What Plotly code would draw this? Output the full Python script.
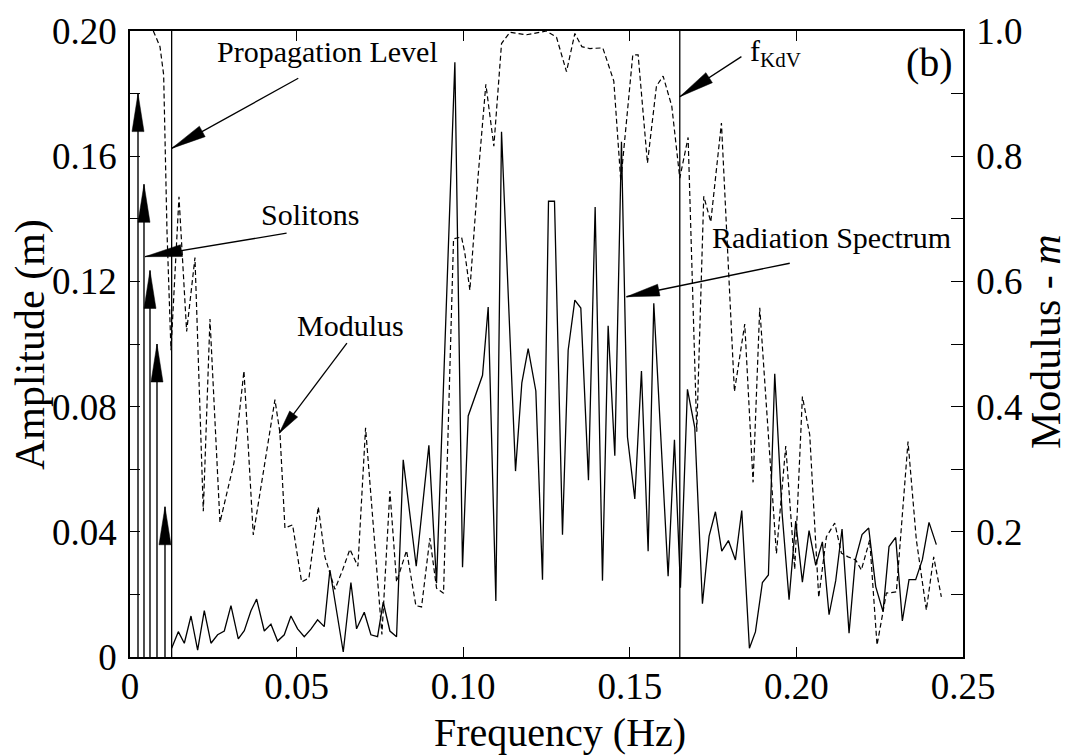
import math
import plotly.graph_objects as go

# ---------------- data ----------------
# Radiation spectrum amplitude (m), solid line, left axis
freq_amp = [0.0125, 0.0145, 0.0163, 0.0183, 0.0203, 0.0223, 0.0243, 0.0263, 0.0283, 0.0303,
            0.0325, 0.0343, 0.0363, 0.0380, 0.0403, 0.0423, 0.0443, 0.0463, 0.0483, 0.0503,
            0.0523, 0.0543, 0.0563, 0.0583, 0.0600, 0.0640, 0.0663, 0.0680, 0.0703, 0.0723,
            0.0743, 0.0760, 0.0780, 0.0800, 0.0820, 0.0859, 0.0897, 0.0920, 0.0975, 0.0998,
            0.1015, 0.1058, 0.1075, 0.1098, 0.1115, 0.1157, 0.1176, 0.1195, 0.1218, 0.1238,
            0.1256, 0.1274, 0.1298, 0.1315, 0.1335, 0.1353, 0.1376, 0.1396, 0.1418, 0.1435,
            0.1455, 0.1475, 0.1493, 0.1515, 0.1535, 0.1555, 0.1572, 0.1615, 0.1634, 0.1652,
            0.1673, 0.1695, 0.1718, 0.1738, 0.1757, 0.1776, 0.1796, 0.1817, 0.1836, 0.1859,
            0.1877, 0.1898, 0.1916, 0.1935, 0.1957, 0.1978, 0.1998, 0.2018, 0.2038, 0.2058,
            0.2078, 0.2098, 0.2118, 0.2137, 0.2158, 0.2177, 0.2197, 0.2217, 0.2238, 0.2260,
            0.2278, 0.2298, 0.2318, 0.2338, 0.2358, 0.2378, 0.2398, 0.2420]
amp = [0.0028, 0.0081, 0.0044, 0.0131, 0.0022, 0.0148, 0.0044, 0.0071, 0.0083, 0.0164,
       0.0058, 0.0084, 0.0148, 0.0185, 0.0083, 0.0105, 0.0051, 0.0071, 0.0131, 0.0090,
       0.0065, 0.0089, 0.0119, 0.0097, 0.0278, 0.0016, 0.0238, 0.0090, 0.0143, 0.0071,
       0.0065, 0.0175, 0.0083, 0.0065, 0.0630, 0.0290, 0.0676, 0.0236, 0.1900, 0.0287,
       0.0770, 0.0900, 0.1118, 0.0179, 0.1678, 0.0594, 0.0876, 0.0985, 0.0850, 0.0247,
       0.1456, 0.1456, 0.0391, 0.0980, 0.1140, 0.1115, 0.0565, 0.1438, 0.0244, 0.1058,
       0.0643, 0.1646, 0.0703, 0.0505, 0.0914, 0.0338, 0.1130, 0.0258, 0.0694, 0.0221,
       0.0855, 0.0733, 0.0170, 0.0386, 0.0464, 0.0338, 0.0372, 0.0310, 0.0468, 0.0028,
       0.0080, 0.0238, 0.0262, 0.0905, 0.0461, 0.0183, 0.0434, 0.0239, 0.0404, 0.0293,
       0.0368, 0.0135, 0.0244, 0.0409, 0.0076, 0.0311, 0.0391, 0.0412, 0.0225, 0.0145,
       0.0353, 0.0382, 0.0115, 0.0247, 0.0247, 0.0311, 0.0430, 0.0359]

# Modulus m, dashed line, right axis
freq_mod = [0.0070, 0.0090, 0.0101, 0.0111, 0.0123, 0.0147, 0.0170, 0.0195, 0.0220, 0.0240,
            0.0270, 0.0312, 0.0342, 0.0370, 0.0435, 0.0450, 0.0465, 0.0488, 0.0515, 0.0537,
            0.0565, 0.0585, 0.0615, 0.0638, 0.0660, 0.0684, 0.0707, 0.0756, 0.0780, 0.0800,
            0.0830, 0.0858, 0.0875, 0.0900, 0.0920, 0.0941, 0.0971, 0.0995, 0.1005, 0.1020,
            0.1045, 0.1068, 0.1092, 0.1115, 0.1140, 0.1190, 0.1250, 0.1280, 0.1310, 0.1335,
            0.1356, 0.1380, 0.1419, 0.1452, 0.1473, 0.1509, 0.1525, 0.1553, 0.1580, 0.1600,
            0.1626, 0.1650, 0.1675, 0.1701, 0.1722, 0.1743, 0.1775, 0.1814, 0.1845, 0.1870,
            0.1890, 0.1940, 0.1968, 0.1980, 0.1995, 0.2018, 0.2040, 0.2067, 0.2090, 0.2115,
            0.2135, 0.2155, 0.2178, 0.2195, 0.2220, 0.2242, 0.2270, 0.2300, 0.2335, 0.2360,
            0.2390, 0.2412, 0.2435]
modulus = [1.000, 0.975, 0.930, 0.680, 0.490, 0.735, 0.520, 0.638, 0.233, 0.540,
           0.215, 0.310, 0.457, 0.195, 0.411, 0.358, 0.206, 0.211, 0.120, 0.126,
           0.240, 0.160, 0.108, 0.139, 0.172, 0.145, 0.366, 0.036, 0.265, 0.120,
           0.170, 0.082, 0.080, 0.190, 0.110, 0.102, 0.668, 0.671, 0.645, 0.586,
           0.770, 0.915, 0.816, 0.980, 0.998, 0.994, 1.000, 0.990, 0.935, 0.996,
           0.975, 0.972, 0.973, 0.920, 0.760, 0.962, 0.962, 0.789, 0.912, 0.928,
           0.880, 0.765, 0.830, 0.360, 0.736, 0.695, 0.853, 0.424, 0.532, 0.279,
           0.558, 0.165, 0.337, 0.256, 0.140, 0.416, 0.355, 0.095, 0.192, 0.214,
           0.166, 0.160, 0.155, 0.139, 0.187, 0.019, 0.102, 0.104, 0.344, 0.187,
           0.075, 0.160, 0.096]

# Solitons (frequency, amplitude)
soliton_freq = [0.0024, 0.0042, 0.0060, 0.0081, 0.0105]
soliton_amp = [0.180, 0.151, 0.1235, 0.100, 0.048]

# Reference frequencies
f_propagation = 0.0125
f_kdv = 0.1650

# Axes
x_ticks = [0, 0.05, 0.10, 0.15, 0.20, 0.25]
x_ticktext = ["0", "0.05", "0.10", "0.15", "0.20", "0.25"]
yl_ticks = [0, 0.04, 0.08, 0.12, 0.16, 0.20]
yl_ticktext = ["0", "0.04", "0.08", "0.12", "0.16", "0.20"]
yr_ticks = [0.2, 0.4, 0.6, 0.8, 1.0]
yr_ticktext = ["0.2", "0.4", "0.6", "0.8", "1.0"]

# ---------------- layout geometry ----------------
W, H = 1078, 755
ML, MR, MT, MB = 130, 115, 31, 98
PW, PH = W - ML - MR, H - MT - MB
XR = [0, 0.25]
YR = [0, 0.20]
SX = PW / (XR[1] - XR[0])   # px per Hz
SY = PH / (YR[1] - YR[0])   # px per m

FONT = "Liberation Serif, Times New Roman, serif"


def head(tail, tip, length, half):
    """Triangle (data coords) for an arrow head at `tip`."""
    X0, Y0 = tail[0] * SX, tail[1] * SY
    X1, Y1 = tip[0] * SX, tip[1] * SY
    d = math.hypot(X1 - X0, Y1 - Y0)
    ux, uy = (X1 - X0) / d, (Y1 - Y0) / d
    bx, by = X1 - length * ux, Y1 - length * uy
    nx, ny = -uy, ux
    pts = [(X1, Y1), (bx + half * nx, by + half * ny), (bx - half * nx, by - half * ny)]
    return [(p[0] / SX, p[1] / SY) for p in pts]


def px_to_paper(px, py):
    return (px - ML) / PW, (H - MB - py) / PH


fig = go.Figure()

# solid amplitude spectrum
fig.add_trace(go.Scatter(x=freq_amp, y=amp, mode="lines",
                         line=dict(color="black", width=1.3), yaxis="y", showlegend=False))
# dashed modulus
fig.add_trace(go.Scatter(x=freq_mod, y=modulus, mode="lines",
                         line=dict(color="black", width=1.2, dash="5px,3px"),
                         yaxis="y2", showlegend=False))

# soliton stems
sx, sy = [], []
for f, a in zip(soliton_freq, soliton_amp):
    sx += [f, f, None]
    sy += [0, a, None]
fig.add_trace(go.Scatter(x=sx, y=sy, mode="lines", line=dict(color="#222", width=1.6),
                         showlegend=False))
# soliton arrow heads
hx, hy = [], []
for f, a in zip(soliton_freq, soliton_amp):
    tri = head((f, 0), (f, a), 38, 6)
    hx += [p[0] for p in tri] + [tri[0][0], None]
    hy += [p[1] for p in tri] + [tri[0][1], None]
fig.add_trace(go.Scatter(x=hx, y=hy, mode="lines", fill="toself", fillcolor="black",
                         line=dict(color="black", width=0.5), showlegend=False))

shapes = []
# vertical reference lines
for fv in (f_propagation, f_kdv):
    shapes.append(dict(type="line", xref="x", yref="paper", x0=fv, x1=fv, y0=0, y1=1,
                       line=dict(color="black", width=1.3)))

# annotation arrows: (tail, tip, head length px, half width px)
arrows = [
    ((0.0505, 0.1849), (0.0125, 0.1625), 35, 6),   # Propagation Level
    ((0.0470, 0.1354), (0.0045, 0.1279), 37, 6),   # Solitons
    ((0.0651, 0.1003), (0.0448, 0.0715), 24, 5),   # Modulus
    ((0.1980, 0.1258), (0.1490, 0.1151), 33, 6),   # Radiation Spectrum
    ((0.1835, 0.1918), (0.1650, 0.1790), 35, 6),   # f_KdV
]
for tail, tip, L, hw in arrows:
    shapes.append(dict(type="line", xref="x", yref="y", x0=tail[0], y0=tail[1],
                       x1=tip[0], y1=tip[1], line=dict(color="black", width=1.3)))
    tri = head(tail, tip, L, hw)
    path = "M{},{} L{},{} L{},{} Z".format(tri[0][0], tri[0][1], tri[1][0], tri[1][1],
                                          tri[2][0], tri[2][1])
    shapes.append(dict(type="path", xref="x", yref="y", path=path,
                       fillcolor="black", line=dict(color="black", width=0.5)))

ann_font = dict(family=FONT, size=30, color="black")
annotations = [
    dict(x=0.0594, y=0.1933, text="Propagation Level"),
    dict(x=0.0540, y=0.1415, text="Solitons"),
    dict(x=0.0663, y=0.1058, text="Modulus"),
    dict(x=0.2106, y=0.1339, text="Radiation Spectrum"),
    dict(x=0.1938, y=0.1930, text="f<sub>KdV</sub>"),
]
for a in annotations:
    a.update(xref="x", yref="y", showarrow=False, font=ann_font, xanchor="center",
             yanchor="middle")
annotations.append(dict(x=0.2400, y=0.1898, xref="x", yref="y", text="(b)", showarrow=False,
                        xanchor="center", yanchor="middle",
                        font=dict(family=FONT, size=40, color="black")))
# axis titles
title_font = dict(family=FONT, size=42, color="black")
ax_l = px_to_paper(30, 345)
ax_r = px_to_paper(1046, 342)
ax_b = px_to_paper(560, 732)
annotations += [
    dict(x=ax_l[0], y=ax_l[1], xref="paper", yref="paper", text="Amplitude (m)",
         textangle=-90, showarrow=False, font=title_font, xanchor="center",
         yanchor="middle"),
    dict(x=ax_r[0], y=ax_r[1], xref="paper", yref="paper", text="Modulus - <i>m</i>",
         textangle=-90, showarrow=False, font=title_font, xanchor="center",
         yanchor="middle"),
    dict(x=ax_b[0], y=ax_b[1], xref="paper", yref="paper", text="Frequency (Hz)",
         showarrow=False, font=dict(family=FONT, size=40, color="black"),
         xanchor="center", yanchor="middle"),
]

tick_font = dict(family=FONT, size=37, color="black")
fig.update_layout(
    width=W, height=H,
    margin=dict(l=ML, r=MR, t=MT, b=MB),
    paper_bgcolor="white", plot_bgcolor="white",
    showlegend=False,
    shapes=shapes,
    annotations=annotations,
    xaxis=dict(range=XR, tickvals=x_ticks, ticktext=x_ticktext, ticks="inside",
               ticklen=10, tickwidth=1.3, tickcolor="black", showline=True,
               linecolor="black", linewidth=1.5, mirror="ticks", showgrid=False,
               zeroline=False, tickfont=tick_font, ticklabelstandoff=-4),
    yaxis=dict(range=YR, tickvals=yl_ticks, ticktext=yl_ticktext, ticks="inside",
               ticklen=10, tickwidth=1.3, tickcolor="black", showline=True,
               linecolor="black", linewidth=1.5, showgrid=False, zeroline=False,
               tickfont=tick_font, ticklabelstandoff=4,
               minor=dict(dtick=0.02, tick0=0, ticks="inside", ticklen=10,
                          tickwidth=1.1, tickcolor="black")),
    yaxis2=dict(range=[0, 1.0], overlaying="y", side="right", tickvals=yr_ticks,
                ticktext=yr_ticktext, ticks="inside", ticklen=12, tickwidth=1.3,
                tickcolor="black", showline=True, linecolor="black", linewidth=1.5,
                showgrid=False, zeroline=False, tickfont=tick_font,
                ticklabelstandoff=4,
                minor=dict(dtick=0.1, tick0=0, ticks="inside", ticklen=12,
                           tickwidth=1.1, tickcolor="black")),
)

# remove the default 8px page margin so the figure sits at the window origin
fig.write_html("out.html", config={"displayModeBar": False},
               post_script="document.body.style.margin='0';document.body.style.overflow='hidden';")
